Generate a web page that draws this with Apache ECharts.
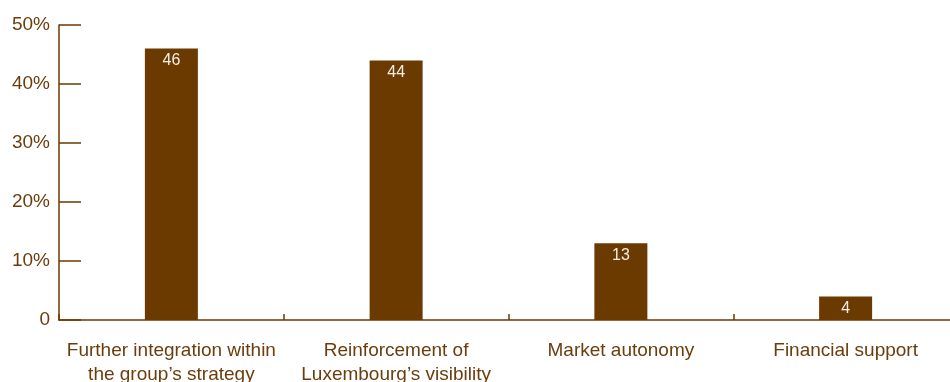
<!DOCTYPE html>
<html>
<head>
<meta charset="utf-8">
<script src="https://cdn.jsdelivr.net/npm/echarts@6/dist/echarts.min.js"></script>
<style>
  html, body { margin: 0; padding: 0; background: #ffffff; }
  #chart { width: 950px; height: 382px; }
</style>
</head>
<body>
<div id="chart"></div>
<script>
// Share of respondents (%) per expected benefit
const categories = [
  'Further integration within\nthe group\u2019s strategy',
  'Reinforcement of\nLuxembourg\u2019s visibility',
  'Market autonomy',
  'Financial support'
];
const shares = [46, 44, 13, 4];
const yTicks = [0, 10, 20, 30, 40, 50];

const brown = '#6b3a00';
const textBrown = '#6b3d0c';
const fontFamily = '"Liberation Sans", Arial, sans-serif';

const chart = echarts.init(document.getElementById('chart'), null, { renderer: 'canvas' });

// The plot runs slightly past the right edge of the canvas
chart.setOption({
  animation: false,
  backgroundColor: '#ffffff',
  grid: {
    left: 59, top: 25, bottom: 62, width: 899,
    containLabel: false,
    outerBoundsMode: 'none'
  },
  xAxis: {
    type: 'category',
    data: categories,
    boundaryGap: true,
    axisLine: { show: true, lineStyle: { color: brown, width: 1.5 } },
    axisTick: { show: true, inside: true, length: 6, alignWithLabel: false, lineStyle: { color: brown, width: 1.5 } },
    axisLabel: {
      color: textBrown,
      fontFamily: fontFamily,
      fontSize: 19,
      lineHeight: 24,
      margin: 19,
      interval: 0
    },
    splitLine: { show: false }
  },
  yAxis: {
    type: 'value',
    min: yTicks[0],
    max: yTicks[yTicks.length - 1],
    interval: yTicks[1] - yTicks[0],
    axisLine: { show: true, lineStyle: { color: brown, width: 1.5 } },
    axisTick: { show: true, inside: true, length: 22, lineStyle: { color: brown, width: 1.5 } },
    axisLabel: {
      color: textBrown,
      fontFamily: fontFamily,
      fontSize: 19,
      margin: 9,
      formatter: v => (v === 0 ? '0' : v + '%')
    },
    splitLine: { show: false }
  },
  series: [{
    type: 'bar',
    data: shares,
    barWidth: 53,
    itemStyle: { color: brown },
    label: {
      show: true,
      position: 'insideTop',
      distance: 4,
      color: '#f4eee6',
      fontFamily: fontFamily,
      fontSize: 16
    }
  }]
});
</script>
</body>
</html>
